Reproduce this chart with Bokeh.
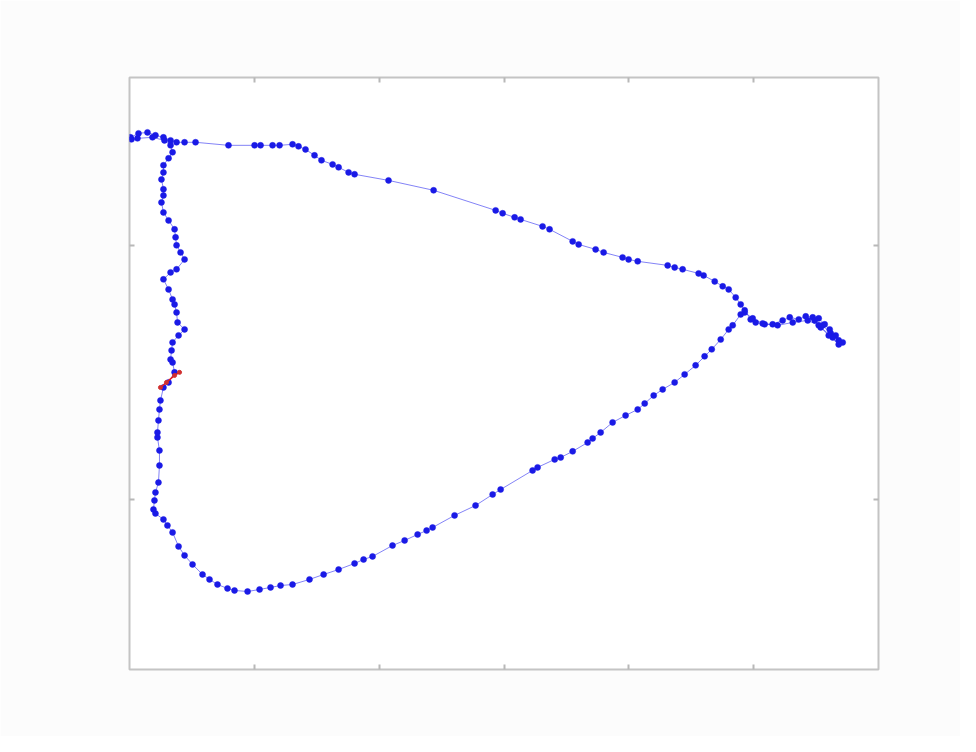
from bokeh.plotting import figure
from bokeh.models import LinearAxis, FixedTicker, Range1d
from bokeh.embed import file_html
from bokeh.resources import INLINE

# Trajectory (data units)
traj_x = [0.8, 7.2, 14.4, 20.8, 27.2, 32.9, 37.7, 44.1, 52.9, 79.3, 100.2, 105.0, 114.6, 120.2,
          130.6, 135.4, 141.0, 148.2, 153.8, 162.7, 167.5, 175.5, 180.3, 207.5, 243.6, 293.3,
          298.9, 308.5, 313.3, 330.9, 336.5, 355.0, 359.8, 373.4, 379.8, 395.0, 399.8, 407.1,
          431.1, 436.7, 443.1, 455.9, 459.9, 468.8, 475.2, 480.0, 485.6, 489.6, 492.8,
          497.6, 501.6, 508.8, 515.2, 523.2, 528.9, 536.1, 541.7, 547.3, 552.1, 556.9, 560.9,
          565.7, 571.3, 568.1, 561.7, 555.3, 548.9, 553.7, 563.3, 568.1, 560.1, 552.1, 543.3,
          531.3, 519.2, 507.2, 499.2, 492.8,
          489.6, 483.2, 480.0, 473.6, 466.4, 460.7, 453.5, 444.7, 436.7, 427.1, 419.9, 412.7,
          407.1, 397.4, 387.0, 377.4, 371.0, 367.0, 355.0, 345.4, 340.6, 326.9, 322.9, 297.3,
          290.9, 277.2, 260.4, 242.8, 238.0, 230.8, 220.4, 210.7, 194.7, 187.5, 180.3, 167.5,
          155.5, 144.2, 130.6, 121.0, 113.0, 104.2, 94.6, 84.1, 78.5, 70.5, 64.1, 58.5, 50.5,
          44.1, 39.3, 34.5, 30.4, 27.2, 20.8, 19.2, 20.0, 20.8, 23.2, 24.0, 24.0, 22.4, 22.4,
          23.2, 24.0, 24.8, 27.2, 31.3, 36.1, 34.5, 32.9, 33.7, 34.5, 39.3, 44.1, 38.5, 37.7,
          36.1, 34.5, 31.3, 27.2, 32.9, 37.7, 44.1, 40.9, 37.7, 36.9, 36.1, 31.3, 27.2, 25.6,
          27.2, 27.2, 25.6, 27.2, 27.2, 31.3, 34.5, 32.9, 28.0, 18.4, 6.4, 1.6]
traj_y = [418.9, 422.0, 422.8, 420.5, 418.9, 416.5, 415.0, 415.0, 415.0, 412.6, 412.6, 412.6, 412.6, 412.6,
          413.4, 411.8, 409.4, 404.7, 400.8, 397.6, 395.3, 391.3, 389.8, 385.0, 377.2, 361.4,
          359.1, 355.9, 354.3, 348.8, 346.5, 337.0, 334.6, 330.7, 328.3, 324.4, 322.8, 321.3,
          318.1, 316.5, 315.0, 311.8, 310.2, 305.5, 301.6, 299.2, 292.9, 287.4, 282.7,
          275.6, 273.2, 271.7, 271.7, 274.8, 277.2, 275.6, 278.0, 277.2, 276.4, 271.7, 267.7,
          263.0, 257.5, 259.1, 264.6, 270.9, 274.8, 269.3, 261.4, 255.9, 263.0, 270.9, 274.8,
          273.2, 270.9, 272.4, 276.4, 281.1,
          279.5, 270.9, 267.7, 259.8, 252.0, 246.5, 239.4, 232.3, 226.0, 220.5, 215.7, 209.4,
          204.7, 200.0, 194.5, 186.6, 181.9, 178.7, 171.7, 166.9, 165.4, 159.1, 156.7, 141.7,
          137.8, 129.1, 121.3, 111.8, 109.4, 106.3, 101.6, 97.6, 89.0, 86.6, 83.5, 78.7,
          74.8, 70.9, 66.9, 66.1, 64.6, 63.0, 61.4, 62.2, 63.8, 66.9, 70.9, 74.8, 82.7,
          89.8, 96.9, 107.9, 113.4, 118.1, 122.8, 126.0, 133.1, 139.4, 147.2, 160.6, 172.4, 182.7, 186.6,
          196.1, 204.7, 211.8, 222.0, 226.0, 233.9, 241.7, 244.1, 251.2, 257.5, 263.0, 267.7, 273.2, 281.1,
          287.4, 291.3, 299.2, 307.1, 312.6, 315.0, 322.8, 328.3, 333.9, 340.2, 346.5, 353.5, 359.8, 367.7,
          373.2, 378.0, 385.8, 391.3, 396.9, 402.4, 407.1, 412.6, 416.5, 418.9, 418.1, 417.3]

# Short red segment
red_x = [24.8, 29.6, 36.1, 40.1]
red_y = [222.0, 226.0, 231.5, 233.9]

x_ticks = [100, 200, 300, 400, 500]
y_ticks = [134, 334]

p = figure(width=960, height=736, output_backend="svg", toolbar_location=None,
           x_range=Range1d(0, 600), y_range=Range1d(0, 466),
           min_border_left=129, min_border_right=82, min_border_top=77, min_border_bottom=67,
           background_fill_color="white", border_fill_color="#fcfcfc")
p.grid.visible = False
p.outline_line_color = "#c4c4c4"
p.outline_line_width = 2

p.line(traj_x, traj_y, line_color="#3030f0", line_width=1, line_alpha=0.6)
p.scatter(traj_x, traj_y, size=6, fill_color="#1a1ae6", line_color="#1a1ae6", line_width=0.5)
p.line(red_x, red_y, line_color="#e02020", line_width=1.5)
p.scatter(red_x, red_y, size=4, fill_color="#d03030", line_color="#d03030")

def style_axis(ax, ticks):
    ax.ticker = FixedTicker(ticks=ticks)
    ax.major_tick_in = 5
    ax.major_tick_out = 0
    ax.minor_tick_in = 0
    ax.minor_tick_out = 0
    ax.major_tick_line_color = "#b8b8b8"
    ax.major_tick_line_width = 2
    ax.axis_line_color = None
    ax.major_label_text_font_size = "0px"
    ax.major_label_text_color = None

style_axis(p.xaxis[0], x_ticks)
style_axis(p.yaxis[0], y_ticks)
top_ax = LinearAxis()
right_ax = LinearAxis()
style_axis(top_ax, x_ticks)
style_axis(right_ax, y_ticks)
p.add_layout(top_ax, "above")
p.add_layout(right_ax, "right")

open("out.html", "w").write(file_html(p, INLINE))
